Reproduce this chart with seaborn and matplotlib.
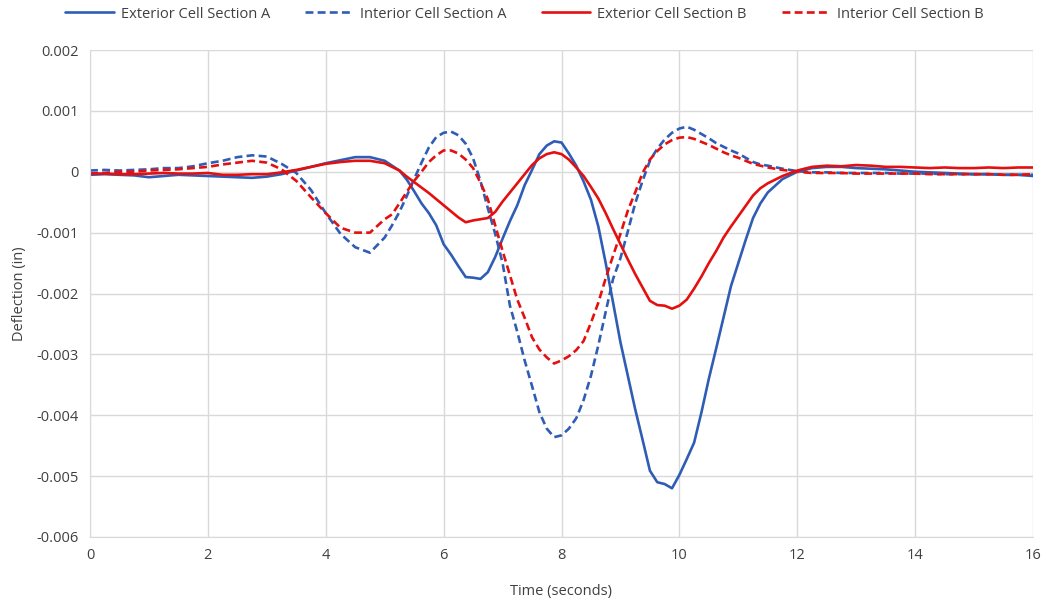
import numpy as np
import pandas as pd
import matplotlib
matplotlib.use("Agg")
import matplotlib.pyplot as plt
import seaborn as sns
from matplotlib.ticker import FuncFormatter, MultipleLocator
from matplotlib.lines import Line2D

time_s = [0.0, 0.25, 0.5, 0.75, 1.0, 1.25, 1.5, 1.75, 2.0, 2.25, 2.5, 2.75, 3.0, 3.25,
          3.5, 3.75, 4.0, 4.25, 4.5, 4.75, 5.0,
          5.125, 5.25, 5.375, 5.5, 5.625, 5.75, 5.875, 6.0, 6.125, 6.25, 6.375, 6.5, 6.625,
          6.75, 6.875, 7.0, 7.125, 7.25, 7.375, 7.5, 7.625, 7.75, 7.875, 8.0, 8.125, 8.25,
          8.375, 8.5, 8.625, 8.75, 8.875, 9.0, 9.125, 9.25, 9.375, 9.5, 9.625, 9.75, 9.875,
          10.0, 10.125, 10.25, 10.375, 10.5, 10.625, 10.75, 10.875, 11.0, 11.125, 11.25,
          11.375, 11.5,
          11.75, 12.0, 12.25, 12.5, 12.75, 13.0, 13.25, 13.5, 13.75, 14.0, 14.25, 14.5,
          14.75, 15.0, 15.25, 15.5, 15.75, 16.0]

# values in thousandths of an inch
exterior_a = [-0.05, -0.04, -0.05, -0.06, -0.09, -0.07, -0.05, -0.06, -0.07, -0.08, -0.09,
              -0.10, -0.08, -0.04, 0.02, 0.08, 0.14, 0.19, 0.24, 0.24, 0.18,
              0.10, 0.02, -0.13, -0.32, -0.52, -0.68, -0.88, -1.19, -1.36, -1.55, -1.73,
              -1.74, -1.76, -1.65, -1.40, -1.10, -0.81, -0.55, -0.22, 0.03, 0.29, 0.43, 0.50,
              0.48, 0.30, 0.10, -0.16, -0.46, -0.90, -1.50, -2.15, -2.80, -3.35, -3.90, -4.40,
              -4.91, -5.10, -5.13, -5.20, -4.98, -4.72, -4.45, -3.95, -3.40, -2.90, -2.39,
              -1.88, -1.50, -1.12, -0.76, -0.52, -0.34,
              -0.12, 0.00, 0.06, 0.08, 0.08, 0.06, 0.05, 0.04, 0.02, 0.00, -0.01, -0.02,
              -0.03, -0.04, -0.04, -0.05, -0.05, -0.07]
interior_a = [0.02, 0.03, 0.02, 0.03, 0.04, 0.06, 0.06, 0.09, 0.14, 0.18, 0.24, 0.27, 0.25,
              0.13, -0.02, -0.30, -0.68, -1.02, -1.24, -1.33, -1.08,
              -0.88, -0.66, -0.40, -0.12, 0.15, 0.40, 0.57, 0.64, 0.66, 0.60, 0.46, 0.22,
              -0.15, -0.60, -1.02, -1.50, -2.20, -2.63, -3.10, -3.52, -3.95, -4.22, -4.36,
              -4.33, -4.22, -4.05, -3.75, -3.35, -2.85, -2.30, -1.76, -1.42, -0.98, -0.52,
              -0.15, 0.18, 0.38, 0.53, 0.64, 0.71, 0.74, 0.69, 0.62, 0.55, 0.47, 0.41, 0.35,
              0.30, 0.23, 0.16, 0.12, 0.10,
              0.05, 0.01, -0.01, -0.01, -0.02, -0.02, -0.02, -0.02, -0.03, -0.03, -0.03,
              -0.04, -0.04, -0.04, -0.04, -0.05, -0.05, -0.05]
exterior_b = [-0.03, -0.03, -0.04, -0.04, -0.03, -0.02, -0.03, -0.03, -0.02, -0.05, -0.05,
              -0.04, -0.04, -0.01, 0.03, 0.08, 0.13, 0.16, 0.18, 0.18, 0.14,
              0.08, 0.02, -0.08, -0.17, -0.26, -0.35, -0.45, -0.55, -0.65, -0.75, -0.83,
              -0.80, -0.78, -0.76, -0.66, -0.49, -0.34, -0.19, -0.04, 0.11, 0.22, 0.29, 0.32,
              0.29, 0.20, 0.07, -0.07, -0.25, -0.44, -0.68, -0.94, -1.19, -1.44, -1.68,
              -1.90, -2.12, -2.19, -2.20, -2.25, -2.20, -2.10, -1.92, -1.72, -1.50, -1.30,
              -1.08, -0.90, -0.73, -0.56, -0.39, -0.27, -0.19,
              -0.07, 0.02, 0.08, 0.10, 0.09, 0.11, 0.10, 0.08, 0.08, 0.07, 0.06, 0.07, 0.06,
              0.06, 0.07, 0.06, 0.07, 0.07]
interior_b = [-0.03, -0.02, 0.00, 0.00, 0.02, 0.03, 0.04, 0.06, 0.08, 0.12, 0.15, 0.18, 0.15,
              0.04, -0.15, -0.42, -0.68, -0.92, -1.00, -1.00, -0.78,
              -0.70, -0.52, -0.33, -0.15, 0.00, 0.16, 0.27, 0.35, 0.35, 0.30, 0.20, 0.06,
              -0.18, -0.45, -0.88, -1.30, -1.70, -2.10, -2.40, -2.72, -2.92, -3.05, -3.15,
              -3.10, -3.03, -2.93, -2.78, -2.48, -2.15, -1.75, -1.38, -1.02, -0.64, -0.34,
              -0.02, 0.20, 0.34, 0.45, 0.52, 0.56, 0.57, 0.54, 0.49, 0.44, 0.38, 0.32, 0.27,
              0.23, 0.18, 0.13, 0.10, 0.07,
              0.03, 0.00, -0.02, -0.02, -0.02, -0.03, -0.03, -0.03, -0.03, -0.03, -0.04,
              -0.04, -0.04, -0.04, -0.04, -0.05, -0.05, -0.04]

series_names = ["Exterior Cell Section A", "Interior Cell Section A",
                "Exterior Cell Section B", "Interior Cell Section B"]
series_vals = [exterior_a, interior_a, exterior_b, interior_b]

frames = []
for name, vals in zip(series_names, series_vals):
    assert len(vals) == len(time_s), (name, len(vals), len(time_s))
    frames.append(pd.DataFrame({"Time": time_s,
                                "Deflection": np.array(vals) / 1000.0,
                                "Series": name}))
df = pd.concat(frames, ignore_index=True)

sns.set_style("white")
plt.rcParams["font.family"] = ["Open Sans", "DejaVu Sans"]

BLUE = "#2F5DB5"
RED = "#E41010"
palette = {series_names[0]: BLUE, series_names[1]: BLUE,
           series_names[2]: RED, series_names[3]: RED}
dash_spec = {series_names[0]: "", series_names[1]: (3, 1.6),
             series_names[2]: "", series_names[3]: (3, 1.6)}

fig = plt.figure(figsize=(10.45, 6.0), dpi=100)
ax = fig.add_axes([90/1045, 1-537/600, (1033-90)/1045, (537-50)/600])

sns.lineplot(data=df, x="Time", y="Deflection", hue="Series", style="Series",
             palette=palette, dashes=dash_spec, linewidth=1.9, ax=ax,
             legend=False, sort=False)
for ln in ax.get_lines():
    ln.set_solid_joinstyle("round")
    ln.set_dash_joinstyle("round")

ax.set_xlim(0, 16)
ax.set_ylim(-0.006, 0.002)
ax.xaxis.set_major_locator(MultipleLocator(2))
ax.yaxis.set_major_locator(MultipleLocator(0.001))
ax.yaxis.set_major_formatter(FuncFormatter(lambda v, p: "0" if abs(v) < 1e-9 else f"{v:.3f}"))
ax.grid(True, color="#D9D9D9", linewidth=1.0)
ax.set_axisbelow(True)
for s in ["top", "right"]:
    ax.spines[s].set_visible(False)
ax.spines["left"].set_color("#D9D9D9")
ax.spines["bottom"].set_color("#D9D9D9")
ax.tick_params(axis="both", length=0, labelsize=10.5, colors="#404040", pad=8)
ax.set_xlabel("Time (seconds)", fontsize=10.5, color="#404040", labelpad=15)
ax.set_ylabel("Deflection (in)", fontsize=10.5, color="#404040", labelpad=7)

handles = [Line2D([0], [0], color=palette[n], linewidth=1.9,
                  linestyle="-" if dash_spec[n] == "" else (0, dash_spec[n]))
           for n in series_names]
fig.legend(handles, series_names, loc="center", bbox_to_anchor=(0.502, 1-14/600),
           ncol=4, frameon=False, fontsize=10.5, handlelength=3.3, columnspacing=2.4,
           handletextpad=0.5, labelcolor="#404040")

fig.savefig("out.png", dpi=100)
